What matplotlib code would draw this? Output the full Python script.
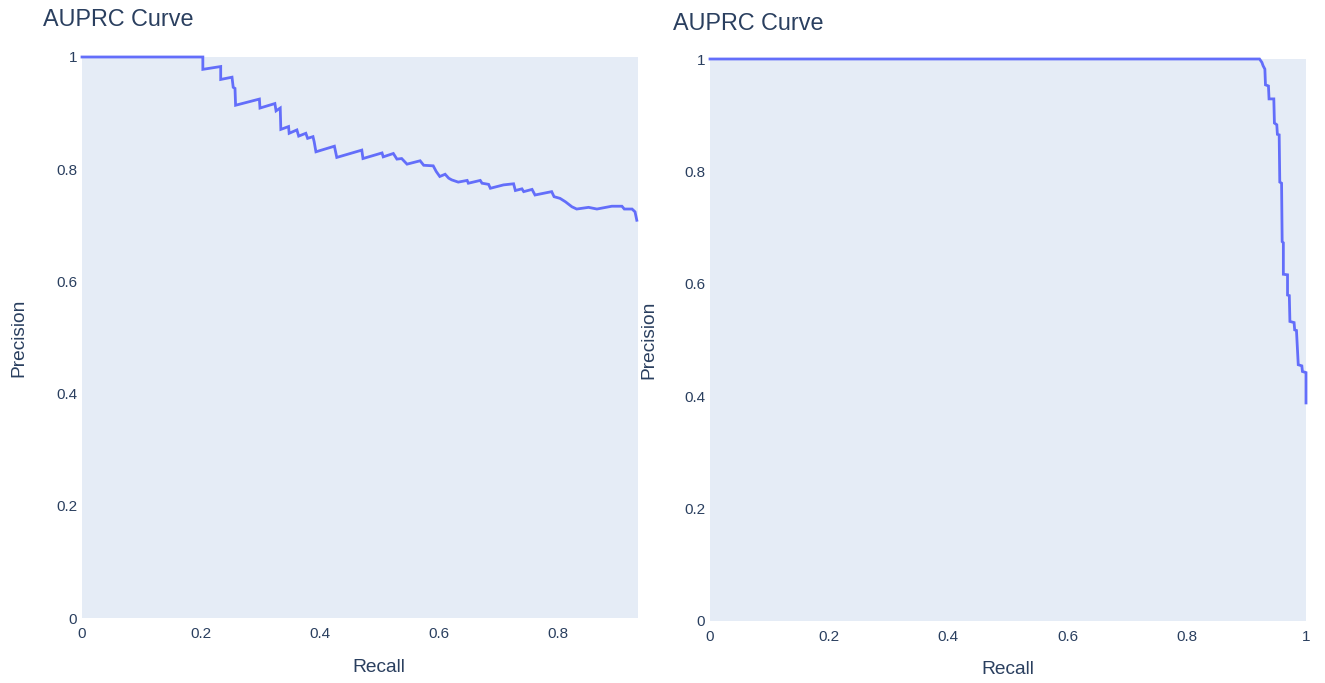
import matplotlib
matplotlib.use("Agg")
import matplotlib.pyplot as plt

# ---- data ----
recall_left = [0.0, 0.203, 0.203, 0.233, 0.233, 0.252, 0.254, 0.257, 0.258, 0.298, 0.299,
               0.324, 0.326, 0.333, 0.334, 0.347, 0.348, 0.361, 0.364, 0.376, 0.379,
               0.388, 0.390, 0.393, 0.424, 0.428, 0.470, 0.472, 0.504, 0.506, 0.523,
               0.529, 0.537, 0.546, 0.568, 0.574, 0.590, 0.595, 0.601, 0.610, 0.616,
               0.621, 0.632, 0.647, 0.649, 0.669, 0.672, 0.683, 0.686, 0.708, 0.725,
               0.728, 0.739, 0.742, 0.756, 0.761, 0.789, 0.793, 0.803, 0.812, 0.823,
               0.831, 0.851, 0.865, 0.890, 0.907, 0.911, 0.924, 0.929, 0.932]
precision_left = [1.0, 1.0, 0.978, 0.983, 0.960, 0.964, 0.946, 0.944, 0.914, 0.925, 0.909,
                  0.917, 0.904, 0.909, 0.871, 0.876, 0.864, 0.870, 0.859, 0.864, 0.855,
                  0.858, 0.849, 0.831, 0.841, 0.821, 0.834, 0.819, 0.829, 0.822, 0.828,
                  0.818, 0.819, 0.809, 0.815, 0.807, 0.806, 0.796, 0.787, 0.791, 0.784,
                  0.781, 0.777, 0.780, 0.775, 0.780, 0.775, 0.773, 0.766, 0.772, 0.774,
                  0.762, 0.765, 0.760, 0.764, 0.754, 0.760, 0.751, 0.748, 0.742, 0.733,
                  0.729, 0.732, 0.729, 0.734, 0.734, 0.729, 0.729, 0.724, 0.709]

recall_right = [0.0, 0.922, 0.926, 0.928, 0.931, 0.932, 0.937, 0.938, 0.946, 0.947, 0.951,
                0.952, 0.955, 0.956, 0.959, 0.960, 0.962, 0.962, 0.969, 0.969, 0.972,
                0.973, 0.980, 0.981, 0.984, 0.987, 0.993, 0.994, 1.0, 1.0]
precision_right = [1.0, 1.0, 0.994, 0.988, 0.982, 0.954, 0.952, 0.929, 0.929, 0.886, 0.883,
                   0.866, 0.865, 0.781, 0.779, 0.675, 0.673, 0.617, 0.616, 0.580, 0.579,
                   0.533, 0.531, 0.518, 0.517, 0.456, 0.454, 0.444, 0.442, 0.388]

x_ticks = [0, 0.2, 0.4, 0.6, 0.8, 1.0]
x_tick_labels = ["0", "0.2", "0.4", "0.6", "0.8", "1"]
y_ticks = [0, 0.2, 0.4, 0.6, 0.8, 1.0]
y_tick_labels = ["0", "0.2", "0.4", "0.6", "0.8", "1"]

title_text = "AUPRC Curve"
x_label = "Recall"
y_label = "Precision"

# ---- style ----
W, H = 1325, 683
DPI = 100
BG = "#E5ECF6"
LINE = "#636EFA"
TXT = "#2a3f5f"
plt.rcParams["font.family"] = ["Liberation Sans", "DejaVu Sans"]

fig = plt.figure(figsize=(W / DPI, H / DPI), dpi=DPI)

def px_axes(x0, y0, x1, y1):
    return fig.add_axes([x0 / W, 1 - y1 / H, (x1 - x0) / W, (y1 - y0) / H])

panels = [
    (px_axes(82, 57, 638, 618), recall_left, precision_left, (0, 0.934), (43, 20), (379, 668), (19, 338)),
    (px_axes(710, 59, 1306, 621), recall_right, precision_right, (0, 1.0), (673, 23), (1008, 670), (649, 340)),
]

for ax, r, p, xlim, tpos, xlpos, ylpos in panels:
    ax.set_facecolor(BG)
    ax.plot(r, p, color=LINE, lw=2, solid_joinstyle="miter", clip_on=False)
    for s in ax.spines.values():
        s.set_visible(False)
    ax.set_xticks(x_ticks)
    ax.set_xticklabels(x_tick_labels)
    ax.set_yticks(y_ticks)
    ax.set_yticklabels(y_tick_labels)
    ax.set_xlim(*xlim)
    ax.set_ylim(0, 1)
    ax.tick_params(length=0, labelsize=11, labelcolor=TXT)
    ax.tick_params(axis="y", pad=3.5)
    ax.tick_params(axis="x", pad=6.5)
    fig.text(tpos[0] / W, 1 - tpos[1] / H, title_text, fontsize=16.8, color=TXT,
             ha="left", va="center")
    fig.text(xlpos[0] / W, 1 - xlpos[1] / H, x_label, fontsize=13.8, color=TXT,
             ha="center", va="center")
    fig.text(ylpos[0] / W, 1 - ylpos[1] / H, y_label, fontsize=13.8, color=TXT,
             ha="center", va="center", rotation=90)

fig.savefig("out.png", dpi=DPI, facecolor="white")
